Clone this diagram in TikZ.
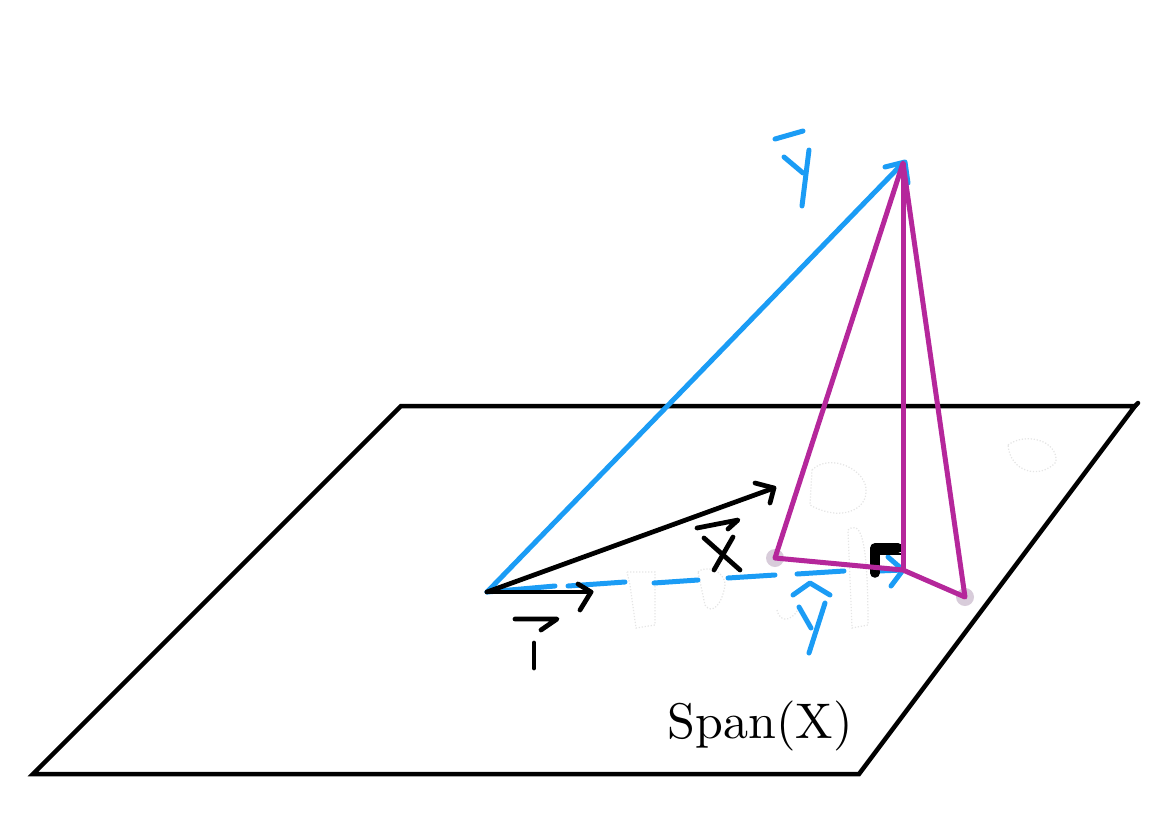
\documentclass[tikz,border=0pt]{standalone}
\usepackage{tikz}
\definecolor{inkblue}{HTML}{1B9CF5}
\definecolor{inkpurple}{HTML}{B5279B}
\definecolor{inkdot}{HTML}{D8CCDA}

\begin{document}
\begin{tikzpicture}[
		x=0.02cm, y=-0.02cm,
		blackline/.style={draw=black, line width=1.9mm, line cap=round, line join=round},
		planeline/.style={draw=black, line width=0.9mm, line cap=round, line join=miter},
		blueline/.style={draw=inkblue, line width=1mm, line cap=round, line join=round},
		purpleline/.style={draw=inkpurple, line width=1mm, line join=round},
		inkblack/.style={draw=black, line width=0.95mm, line cap=round, line join=round},
		ghost/.style={draw=black!10, line width=0.25mm, densely dotted}
	]
	\useasboundingbox (0,0) rectangle (1161,833);

	\coordinate (planeA) at (33,774);
	\coordinate (planeB) at (859,774);
	\coordinate (planeC) at (1135,406);
	\coordinate (planeD) at (401,406);
	\coordinate (origin) at (487,592);
	\coordinate (tipX) at (774,488);
	\coordinate (tipOne) at (591,592);
	\coordinate (apex) at (903,163);
	\coordinate (foot) at (903,570);
	\coordinate (left) at (775,558);
	\coordinate (right) at (965,597);

	% what is left of the erased strokes
	\draw[ghost] (812,470) .. controls (830,452) and (868,470) .. (866,492) .. controls (866,510) and (840,522) .. (810,505) -- cycle;
	\draw[ghost] (1008,445) .. controls (1025,432) and (1058,440) .. (1056,462) .. controls (1040,480) and (1010,472) .. (1008,445) -- cycle;
	\draw[ghost] (627,572) -- (655,572) -- (655,625) -- (636,628) -- (630,585) -- cycle;
	\draw[ghost] (698,572) .. controls (705,565) and (725,570) .. (725,585) .. controls (722,605) and (712,615) .. (705,605) -- cycle;
	\draw[ghost] (848,530) .. controls (860,520) and (868,535) .. (868,625) -- (852,628) -- (848,530);
	\draw[ghost] (777,610) .. controls (780,625) and (795,620) .. (800,605);

	\fill[inkdot] (left) circle (9);
	\fill[inkdot] (right) circle (9);

	% plane
	\draw[planeline] (planeA) -- (planeB) -- (planeC) -- (planeD) -- cycle;
	\draw[planeline] (planeC) -- (1138,403);
	\node[scale=2.85] (span) at (760,726) {Span(X)};

	% y and y hat
	\draw[blueline] (origin) -- (apex);
	\draw[blueline] (885,167) -- (905,162) -- (908,183);
	\draw[blueline] (origin) -- (555,586);
	\draw[blueline] (568,586) -- (625,582);
	\draw[blueline] (654,583) -- (698,580);
	\draw[blueline] (728,578) -- (775,575);
	\draw[blueline] (797,574) -- (844,571);
	\draw[blueline] (878,571) -- (foot);
	\draw[blueline] (888,557) -- (foot) -- (891,586);

	% right angle
	\draw[blackline] (875,573) -- (875,548) -- (898,548);
	\draw[black, line width=0.5mm] (878,554) -- (904,554);

	% x and 1
	\draw[inkblack] (origin) -- (tipX);
	\draw[inkblack] (755,483) -- (tipX) -- (770,503);
	\draw[inkblack] (origin) -- (tipOne);
	\draw[inkblack] (578,584) -- (tipOne) -- (580,610);

	% triangles
	\draw[purpleline] (apex) -- (left) -- (foot) -- (right) -- cycle;
	\draw[purpleline] (apex) -- (foot);

	% handwritten labels
	\draw[inkblack] (697,528) -- (738,520) -- (728,529);
	\draw[inkblack] (704,538) -- (740,570);
	\draw[inkblack] (733,537) -- (714,570);
	\draw[inkblack] (515,619) -- (557,619) -- (541,630);
	\draw[inkblack] (534,643) -- (534,668);
	\draw[blueline] (793,595) -- (810,583) -- (830,595);
	\draw[blueline] (799,607) -- (811,628);
	\draw[blueline] (825,603) -- (809,653);
	\draw[blueline] (775,139) -- (803,131);
	\draw[blueline] (784,157) -- (803,173);
	\draw[blueline] (809,150) -- (802,206);
\end{tikzpicture}
\end{document}
